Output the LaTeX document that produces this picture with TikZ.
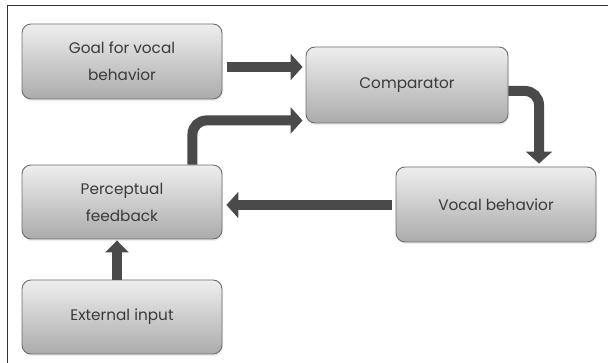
\documentclass[tikz,border=0pt]{standalone}
\usepackage{fontspec}
\setmainfont{Poppins}
\usetikzlibrary{arrows.meta,calc,shadows}
\definecolor{boxline}{HTML}{6E6E6E}
\definecolor{boxtop}{HTML}{EEEEEE}
\definecolor{boxbot}{HTML}{ABABAB}
\definecolor{arrowcol}{HTML}{4A4A4A}
\definecolor{txt}{HTML}{3A3A3A}
\definecolor{framecol}{HTML}{333333}
\tikzset{
  stagebox/.style={draw=boxline, line width=0.9pt, rounded corners=9pt,
    top color=boxtop, bottom color=boxbot, text=txt,
    minimum width=200pt, minimum height=75pt, align=center,
    font=\fontsize{15.3}{27}\selectfont,
    drop shadow={opacity=0.15, shadow xshift=1pt, shadow yshift=-2pt}},
  fatarrow/.style={draw=arrowcol, line width=10pt,
    -{Triangle[length=12pt,width=26pt]}},
}
\begin{document}
\begin{tikzpicture}[x=1pt,y=-1pt]
\useasboundingbox (0,0) rectangle (608,363);
\fill[white] (0,0) rectangle (608,363);
\draw[framecol, line width=1pt] (7,363) -- (7,6) -- (608,6);

\node[stagebox] (goal) at (122,61.5) {Goal for vocal\\behavior};
\node[stagebox, minimum width=202pt, minimum height=76pt] (comp) at (407,85) {Comparator};
\node[stagebox] (vocal) at (496,204.5) {Vocal behavior};
\node[stagebox, minimum height=74pt] (perc) at (122,202) {Perceptual\\feedback};
\node[stagebox, minimum height=74pt] (ext) at (122,317) {External input};

\draw[fatarrow] ($(goal.east)+(5,5.5)$) -- ($(goal.east -| comp.west)+(-3,5.5)$);
\draw[fatarrow, rounded corners=14pt] ($(perc.north east)+(-30,0)$) |- ($(comp.south west)+(-3,-3)$);
\draw[fatarrow, rounded corners=14pt] ($(comp.east)+(0,6)$) -| ($(vocal.north)+(43,-3)$);
\draw[fatarrow] ($(vocal.west)+(-4,0.5)$) -- ($(vocal.west -| perc.east)+(4,0.5)$);
\draw[fatarrow, -{Triangle[length=12pt,width=23pt]}] ($(ext.north)+(-5,0)$) -- ($(perc.south)+(-5,1)$);
\end{tikzpicture}
\end{document}
